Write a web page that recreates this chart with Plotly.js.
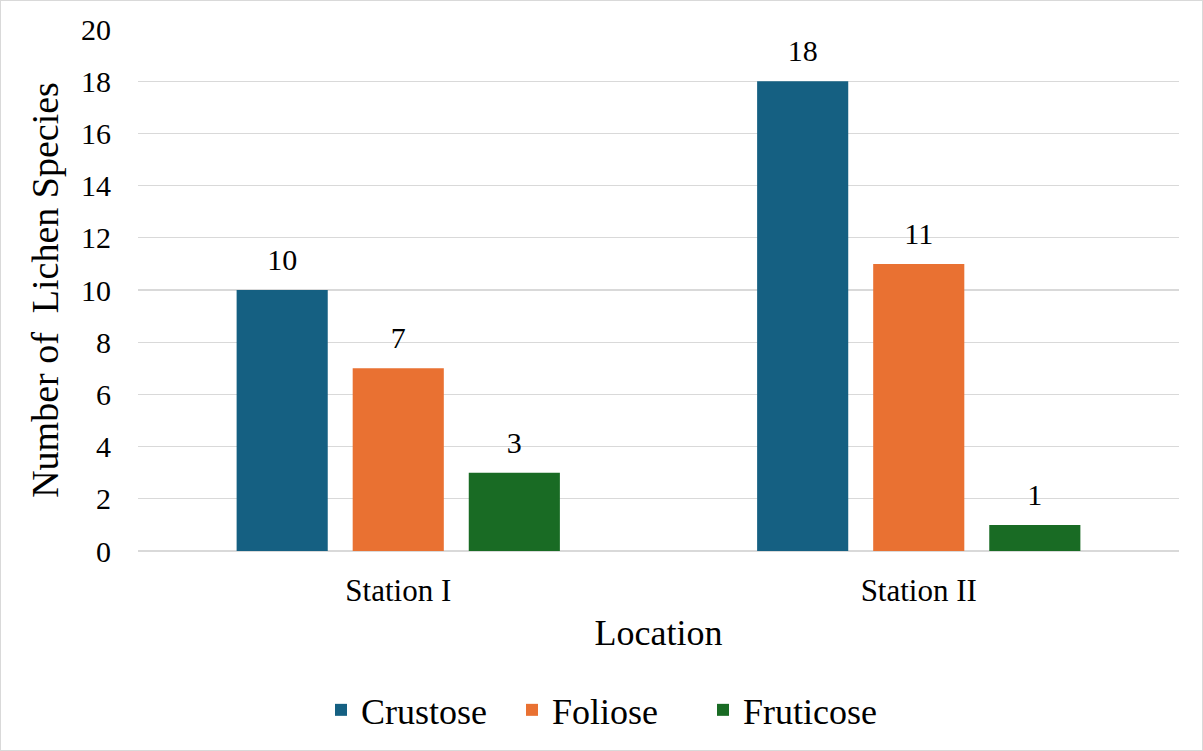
<!DOCTYPE html>
<html>
<head>
<meta charset="utf-8">
<script src="https://cdn.plot.ly/plotly-3.0.1.min.js"></script>
<style>
  html, body { margin: 0; padding: 0; background: #fff; }
  #chart { width: 1201px; height: 749px; border: 1px solid #d9d9d9; }
</style>
</head>
<body>
<div id="chart"></div>
<script>
// chart values
var stations = ['Station I', 'Station II'];
var crustose = [10, 18];
var foliose = [7, 11];
var fruticose = [3, 1];

var seriesNames = ['Crustose', 'Foliose', 'Fruticose'];
var seriesColors = ['#156082', '#e97132', '#196b24'];
var yTicks = [0, 2, 4, 6, 8, 10, 12, 14, 16, 18, 20];

var font = '"Times New Roman", "Liberation Serif", serif';

var data = [crustose, foliose, fruticose].map(function (vals, i) {
	return {
		type: 'bar',
		name: seriesNames[i],
		x: stations,
		y: vals,
		marker: {color: seriesColors[i]},
		text: vals.map(String),
		textposition: 'outside',
		textfont: {family: font, size: 30, color: '#000'},
		cliponaxis: false
	};
});

var layout = {
	width: 1201,
	height: 749,
	font: {family: font, size: 30, color: '#000'},
	paper_bgcolor: '#fff',
	plot_bgcolor: '#fff',
	margin: {l: 137, r: 23, t: 28, b: 198},
	barmode: 'group',
	bargap: 0.331,
	bargroupgap: 0.215,
	showlegend: true,
	legend: {
		orientation: 'h',
		x: 0.451, xanchor: 'center',
		y: -0.302, yanchor: 'middle',
		entrywidth: 146,
		entrywidthmode: 'pixels',
		font: {family: font, size: 36, color: '#000'},
		traceorder: 'normal'
	},
	xaxis: {
		type: 'category',
		showgrid: false,
		showline: false,
		ticks: '',
		ticklabelstandoff: 18,
		tickfont: {family: font, size: 31, color: '#000'},
		title: {text: 'Location', font: {family: font, size: 36, color: '#000'}, standoff: 12}
	},
	yaxis: {
		range: [0, 20],
		tickvals: yTicks,
		showgrid: true,
		gridcolor: '#d9d9d9',
		gridwidth: 1.3,
		zeroline: true,
		zerolinecolor: '#d9d9d9',
		zerolinewidth: 1.3,
		showline: false,
		ticks: '',
		ticklabelstandoff: 26,
		tickfont: {family: font, size: 30, color: '#000'},
		title: {text: 'Number of  Lichen Species', font: {family: font, size: 38, color: '#000'}, standoff: 10}
	}
};

var config = {staticPlot: true, displaylogo: false};

// lift the value labels a little higher above the bars, as in the original
function liftLabels(gd) {
	gd.querySelectorAll('.bartext').forEach(function (t) {
		var tr = t.getAttribute('transform') || '';
		if (tr.indexOf('translate(0,-11) ') === 0) return;
		t.setAttribute('transform', 'translate(0,-11) ' + tr);
	});
}

function draw() {
	return Plotly.newPlot('chart', data, layout, config).then(liftLabels);
}

draw();
// the serif face may come in late; draw again once it is there
document.fonts.ready.then(function () {
	setTimeout(draw, 150);
});
</script>
</body>
</html>
